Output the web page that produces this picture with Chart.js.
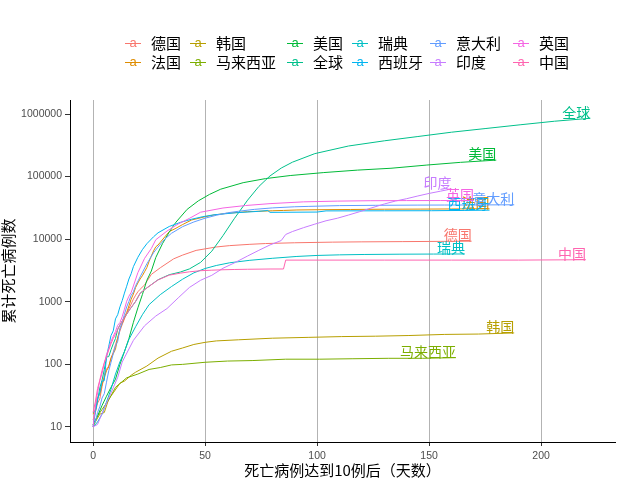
<!DOCTYPE html>
<html><head><meta charset="utf-8">
<script src="https://cdn.jsdelivr.net/npm/chart.js@4/dist/chart.umd.min.js"></script>
<style>html,body{margin:0;padding:0;background:#fff}#wrap{width:640px;height:480px;position:relative}</style>
</head><body><div id="wrap"><canvas id="c" width="640" height="480"></canvas></div>
<script>
// ---- data ----
const NAMES = ['德国','法国','韩国','马来西亚','美国','全球','瑞典','西班牙','意大利','印度','英国','中国'];
const COLORS = ['#F8766D','#DE8C00','#B79F00','#7CAE00','#00BA38','#00C08B','#00BFC4','#00B4F0','#619CFF','#C77CFF','#F564E3','#FF64B0'];
const X_TICKS = [0,50,100,150,200];
const Y_TICKS = [10,100,1000,10000,100000,1000000];

const DE_DAYS = [0,1,2,3,4,5,6,7,8,9,10,11,12,13,14,15,16,17,18,19,20,21,23,26,30,36,40,46,55,61,70,77,90,107,120,138,155,169];
const DE_DEATHS = [13,17,24,28,44,67,84,94,123,157,206,267,342,433,533,645,775,920,1107,1275,1444,1584,1861,2736,3495,4862,5575,6623,7510,7897,8283,8522,8769,8976,9071,9148,9231,9298];

const FR_DAYS = [0,1,2,3,4,5,6,7,8,9,10,11,12,13,14,15,16,17,18,19,20,21,22,23,24,25,26,27,28,29,30,32,34,37,40,44,50,54,60,69,80,85,91,100,115,130,146,160,177];
const FR_DEATHS = [16,19,30,33,48,61,79,91,127,148,175,264,372,450,562,674,860,1100,1331,1696,1995,2314,2606,3024,3523,4403,5387,6507,7560,8078,8911,10869,13197,14967,17167,20265,22856,24376,25987,27529,28457,28802,29296,29547,29843,30138,30265,30410,30635];

const KR_DAYS = [0,1,3,5,7,9,12,14,17,19,24,29,35,40,45,50,55,65,80,96,111,126,141,157,172,188];
const KR_DEATHS = [11,12,16,17,28,35,50,54,67,75,94,126,162,183,208,225,237,247,262,270,278,282,289,301,305,318];

const MY_DAYS = [0,2,4,7,10,15,20,25,30,35,40,50,60,71,86,101,116,132,147,162];
const MY_DEATHS = [10,15,19,27,43,61,70,83,89,98,100,108,113,115,121,121,123,125,125,128];

const US_DAYS = [0,2,4,6,8,10,12,14,16,18,20,22,24,26,28,31,34,37,42,47,52,57,67,77,88,103,118,133,149,164,180];
const US_DEATHS = [11,15,22,31,43,58,100,160,258,470,800,1300,2200,3100,5100,8500,13000,18700,30000,41000,52000,63000,80000,93000,104000,116000,127000,136000,153000,169000,183500];

const WORLD_DAYS = [0,1,2,3,4,5,6,7,8,9,10,11,12,13,14,15,16,17,18,19,21,24,29,34,39,43,48,53,58,63,69,74,79,84,89,99,114,130,145,160,175,191,206,222];
const WORLD_DEATHS = [17,18,26,42,56,82,131,133,171,213,259,362,426,492,564,634,719,806,906,1013,1370,1666,2247,2708,2990,3350,4260,6440,11400,21200,42100,69500,102700,137000,170000,233000,308000,373000,437000,512000,585000,675000,767000,855000];

const SE_DAYS = [0,2,4,6,8,10,12,14,16,19,22,25,30,35,40,45,50,55,61,70,80,91,100,110,121,137,152,166];
const SE_DEATHS = [10,12,16,25,40,70,110,160,250,400,620,900,1300,1750,2300,2900,3400,3800,4200,4600,4950,5300,5500,5620,5700,5760,5790,5810];

const ES_DAYS = [0,1,2,3,4,5,6,7,8,9,10,11,12,13,14,15,16,17,18,20,22,24,27,29,34,39,44,49,54,64,74,78,79,100,104,130,151,166,177];
const ES_DEATHS = [10,17,28,35,54,55,133,195,289,342,533,623,830,1043,1375,1772,2311,2808,3647,5138,6803,8464,10935,12641,15970,18579,20852,22902,24543,26478,27888,28752,26834,27136,28315,28413,28498,28813,29094];

const IT_DAYS = [0,1,2,3,4,5,6,7,8,9,10,11,12,13,14,15,16,17,18,19,21,24,27,29,32,35,40,45,50,55,60,65,72,80,90,96,110,126,145,157,170,188];
const IT_DEATHS = [11,12,17,21,29,34,52,79,107,148,197,233,366,463,631,827,1016,1266,1441,1809,2503,4032,6077,7503,10023,12428,15887,18849,21645,24114,26384,27967,29958,31610,32955,33415,34405,34767,35058,35141,35234,35483];

const IN_DAYS = [0,2,5,8,11,13,18,23,28,33,38,43,48,53,58,63,69,74,79,84,86,89,94,99,104,109,114,119,124,130,135,140,145,150,155,160];
const IN_DEATHS = [10,11,20,35,62,109,242,414,592,779,1154,1694,2206,2649,3435,4167,5394,6642,8102,9520,11903,13254,15301,17400,19693,21604,24309,27497,31358,36511,40699,44386,49036,53866,58390,63498];

const UK_DAYS = [0,1,2,3,4,5,6,7,8,9,10,11,12,13,14,15,16,17,18,20,23,26,28,33,38,43,48,58,68,79,94,109,124,140,155,170];
const UK_DEATHS = [10,21,35,55,71,104,144,177,233,281,335,422,465,578,759,1019,1228,1408,1789,2921,4943,7097,9800,13500,17500,21500,27000,31500,34500,37000,39500,40600,41200,41400,41450,41500];

const CN_DAYS = [0,1,2,3,4,5,6,7,8,9,10,11,12,13,14,15,16,17,18,19,21,24,29,34,39,43,48,53,58,63,69,79,85,86,100,130,160,190,220];
const CN_DEATHS = [17,25,41,56,80,106,132,170,213,259,304,361,425,490,562,636,722,811,908,1016,1368,1665,2236,2663,2870,3013,3136,3199,3249,3281,3309,3339,3342,4632,4634,4634,4634,4634,4700];

const SERIES_DAYS = [DE_DAYS,FR_DAYS,KR_DAYS,MY_DAYS,US_DAYS,WORLD_DAYS,SE_DAYS,ES_DAYS,IT_DAYS,IN_DAYS,UK_DAYS,CN_DAYS];
const SERIES_DEATHS = [DE_DEATHS,FR_DEATHS,KR_DEATHS,MY_DEATHS,US_DEATHS,WORLD_DEATHS,SE_DEATHS,ES_DEATHS,IT_DEATHS,IN_DEATHS,UK_DEATHS,CN_DEATHS];

// ---- chart ----
const CJK = '"Noto Sans CJK SC", "Noto Sans", sans-serif';
const datasets = NAMES.map((n, i) => ({
  label: n,
  data: SERIES_DAYS[i].map((d, k) => ({x: d, y: SERIES_DEATHS[i][k]})),
  borderColor: COLORS[i],
  backgroundColor: COLORS[i],
  borderWidth: 1,
  pointRadius: 0,
  tension: 0,
  fill: false,
  order: NAMES.length - i
}));

const endLabels = {
  id: 'endLabels',
  afterDatasetsDraw(chart) {
    const ctx = chart.ctx;
    ctx.save();
    ctx.font = '14px ' + CJK;
    ctx.textAlign = 'right';
    ctx.textBaseline = 'bottom';
    chart.data.datasets.forEach((ds, i) => {
      const meta = chart.getDatasetMeta(i);
      const pt = meta.data[meta.data.length - 1];
      ctx.fillStyle = ds.borderColor;
      ctx.fillText(ds.label, pt.x, pt.y + 1);
    });
    ctx.restore();
  }
};

const legendPlugin = {
  id: 'gridLegend',
  afterDraw(chart) {
    const ctx = chart.ctx;
    const colX = [133, 198, 295, 360, 438, 521];
    const rowY = [43, 62];
    ctx.save();
    NAMES.forEach((n, i) => {
      const cx = colX[Math.floor(i / 2)], cy = rowY[i % 2];
      ctx.strokeStyle = COLORS[i];
      ctx.lineWidth = 1;
      ctx.beginPath(); ctx.moveTo(cx - 8, cy + 0.5); ctx.lineTo(cx + 8, cy + 0.5); ctx.stroke();
      ctx.fillStyle = COLORS[i];
      ctx.font = '13px "Liberation Sans", Arial, sans-serif';
      ctx.textAlign = 'center'; ctx.textBaseline = 'middle';
      ctx.fillText('a', cx, cy);
      ctx.fillStyle = '#000';
      ctx.font = '15px ' + CJK;
      ctx.textAlign = 'left';
      ctx.fillText(n, cx + 18, cy);
    });
    ctx.restore();
  }
};

new Chart(document.getElementById('c'), {
  type: 'line',
  data: {datasets},
  plugins: [endLabels, legendPlugin],
  options: {
    responsive: false,
    animation: false,
    devicePixelRatio: 1,
    layout: {padding: {top: 100, right: 25, left: 0, bottom: 0}},
    plugins: {legend: {display: false}, tooltip: {enabled: false}},
    scales: {
      x: {
        type: 'linear',
        min: -10.3, max: 233,
        afterBuildTicks: s => { s.ticks = X_TICKS.map(v => ({value: v})); },
        afterFit: s => { s.height = 38; },
        grid: {color: '#B3B3B3', lineWidth: 1, drawTicks: true, tickLength: 4, tickColor: '#333'},
        border: {color: '#000', width: 1},
        ticks: {color: '#4D4D4D', font: {family: '"Liberation Sans", Arial', size: 10.5}, padding: 4, maxRotation: 0, callback: v => String(v)},
        title: {display: true, text: '死亡病例达到10例后（天数）', color: '#000', font: {family: CJK, size: 15, lineHeight: 1.1}, padding: {top: 0, bottom: 1}}
      },
      y: {
        type: 'logarithmic',
        min: 5.75, max: 1675000,
        afterBuildTicks: s => { s.ticks = Y_TICKS.map(v => ({value: v})); },
        afterFit: s => { s.width = 70; },
        grid: {display: true, drawOnChartArea: false, drawTicks: true, tickLength: 5, tickColor: '#333'},
        border: {color: '#000', width: 1},
        ticks: {color: '#4D4D4D', font: {family: '"Liberation Sans", Arial', size: 10.5}, padding: 3, callback: v => String(v)},
        title: {display: true, text: '累计死亡病例数', color: '#000', font: {family: CJK, size: 15, lineHeight: 1.1}, padding: {top: 0, bottom: 0}}
      }
    }
  }
});
</script></body></html>
